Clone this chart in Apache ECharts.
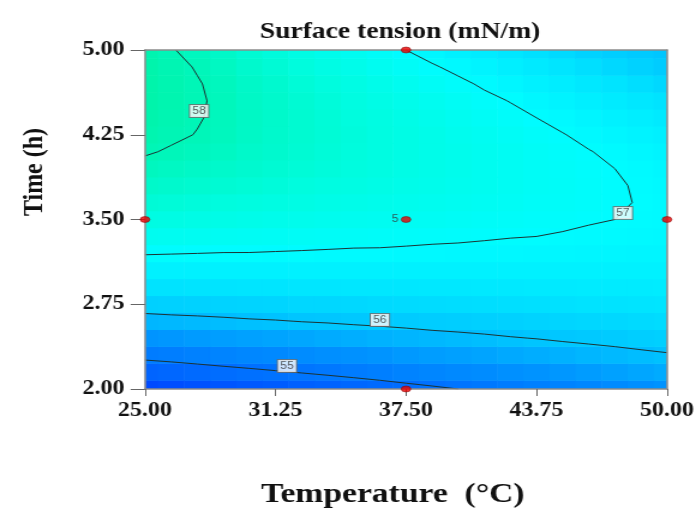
<!DOCTYPE html>
<html>
<head>
<meta charset="utf-8">
<script src="https://cdn.jsdelivr.net/npm/echarts@6/dist/echarts.min.js"></script>
<style>
  html, body { margin: 0; padding: 0; background: #fff; overflow: hidden; }
  /* the figure is laid out narrow and widened, as in the exported plot */
  #chart { width: 583.333px; height: 516px; transform: scaleX(1.2); transform-origin: 0 0; }
</style>
</head>
<body>
<div id="chart"></div>
<script>
// Temperature (°C) columns and time (h) rows of the response grid
const temperatures = [25, 26.25, 27.5, 28.75, 30, 31.25, 32.5, 33.75, 35, 36.25, 37.5,
  38.75, 40, 41.25, 42.5, 43.75, 45, 46.25, 47.5, 48.75, 50];
const times = [2, 2.15, 2.3, 2.45, 2.6, 2.75, 2.9, 3.05, 3.2, 3.35, 3.5,
  3.65, 3.8, 3.95, 4.1, 4.25, 4.4, 4.55, 4.7, 4.85, 5];

// Surface tension (mN/m); one row per time, one column per temperature
const tension = [
  [54.28,54.34,54.40,54.46,54.52,54.58,54.64,54.70,54.76,54.82,54.88,54.94,55.00,55.06,55.12,55.18,55.24,55.30,55.36,55.42,55.48],
  [54.71,54.76,54.82,54.87,54.92,54.97,55.02,55.07,55.12,55.17,55.23,55.28,55.33,55.38,55.43,55.48,55.53,55.58,55.64,55.69,55.74],
  [55.12,55.16,55.20,55.25,55.29,55.33,55.38,55.42,55.46,55.50,55.55,55.59,55.63,55.67,55.72,55.76,55.80,55.85,55.89,55.93,55.97],
  [55.50,55.53,55.57,55.60,55.64,55.67,55.70,55.74,55.77,55.81,55.84,55.88,55.91,55.94,55.98,56.01,56.05,56.08,56.11,56.15,56.18],
  [55.85,55.88,55.90,55.93,55.96,55.98,56.01,56.03,56.06,56.08,56.11,56.14,56.16,56.19,56.21,56.24,56.26,56.29,56.32,56.34,56.37],
  [56.18,56.20,56.22,56.23,56.25,56.27,56.29,56.30,56.32,56.34,56.36,56.37,56.39,56.41,56.42,56.44,56.46,56.48,56.49,56.51,56.53],
  [56.49,56.49,56.50,56.51,56.52,56.53,56.54,56.55,56.56,56.57,56.57,56.58,56.59,56.60,56.61,56.62,56.63,56.64,56.64,56.65,56.66],
  [56.77,56.77,56.77,56.77,56.77,56.77,56.77,56.77,56.77,56.77,56.77,56.77,56.77,56.77,56.77,56.77,56.77,56.77,56.77,56.77,56.77],
  [57.02,57.01,57.00,56.99,56.99,56.98,56.97,56.96,56.95,56.95,56.94,56.93,56.92,56.91,56.91,56.90,56.89,56.88,56.87,56.86,56.86],
  [57.25,57.23,57.21,57.20,57.18,57.16,57.15,57.13,57.11,57.10,57.08,57.06,57.05,57.03,57.01,57.00,56.98,56.96,56.95,56.93,56.91],
  [57.45,57.43,57.40,57.38,57.35,57.33,57.30,57.28,57.25,57.23,57.20,57.18,57.15,57.12,57.10,57.07,57.05,57.02,57.00,56.97,56.95],
  [57.63,57.60,57.56,57.53,57.50,57.46,57.43,57.39,57.36,57.33,57.29,57.26,57.23,57.19,57.16,57.12,57.09,57.06,57.02,56.99,56.96],
  [57.78,57.74,57.70,57.66,57.62,57.57,57.53,57.49,57.45,57.40,57.36,57.32,57.28,57.24,57.19,57.15,57.11,57.07,57.02,56.98,56.94],
  [57.91,57.86,57.81,57.76,57.71,57.66,57.61,57.56,57.51,57.46,57.41,57.35,57.30,57.25,57.20,57.15,57.10,57.05,57.00,56.95,56.90],
  [58.03,57.97,57.92,57.86,57.78,57.72,57.66,57.60,57.54,57.48,57.42,57.36,57.30,57.24,57.19,57.13,57.07,57.01,56.95,56.89,56.83],
  [58.12,58.05,57.99,57.92,57.82,57.75,57.69,57.62,57.55,57.48,57.42,57.35,57.28,57.21,57.14,57.08,57.01,56.94,56.87,56.81,56.74],
  [58.17,58.10,58.02,57.94,57.84,57.76,57.69,57.61,57.53,57.46,57.38,57.31,57.23,57.15,57.08,57.00,56.93,56.85,56.77,56.70,56.62],
  [58.20,58.12,58.03,57.95,57.83,57.75,57.66,57.58,57.49,57.41,57.33,57.24,57.16,57.07,56.99,56.90,56.82,56.73,56.65,56.56,56.48],
  [58.20,58.11,58.02,57.92,57.80,57.71,57.61,57.52,57.43,57.34,57.24,57.15,57.06,56.96,56.87,56.78,56.68,56.59,56.50,56.40,56.31],
  [58.18,58.08,57.98,57.87,57.74,57.64,57.54,57.44,57.34,57.23,57.13,57.03,56.93,56.83,56.73,56.63,56.52,56.42,56.32,56.22,56.12],
  [58.13,58.02,57.91,57.80,57.66,57.55,57.44,57.33,57.22,57.11,57.00,56.89,56.78,56.67,56.56,56.45,56.34,56.23,56.16,56.10,56.03]
];

// Contour levels and where each level's tag sits on its line: [temperature, time, level]
const contourLevels = [55, 56, 57, 58];
const contourTags = [[31.8, 2.204, 55], [36.25, 2.611, 56], [47.89, 3.557, 57], [27.59, 4.46, 58]];

// Design points (temperature, time); the centre point was run 5 times
const designPoints = [[25, 3.5], [37.5, 5], [37.5, 3.5], [50, 3.5], [37.5, 2]];
const centrePoint = [37.5, 3.5];
const centreRuns = 5;

const xTicks = [25, 31.25, 37.5, 43.75, 50];
const yTicks = [2, 2.75, 3.5, 4.25, 5];

const serif = "'Liberation Serif', 'Times New Roman', serif";

// Cell table for the colour field
const cells = [];
times.forEach((t, j) => temperatures.forEach((T, i) => cells.push([T, t, tension[j][i]])));
const dT = temperatures[1] - temperatures[0];
const dt = times[1] - times[0];

// Marching squares over the grid, joined into polylines
function contourPaths(level) {
  const nx = temperatures.length, ny = times.length;
  const point = {}, links = {};
  const link = (a, b) => {
    (links[a] = links[a] || []).push(b);
    (links[b] = links[b] || []).push(a);
  };
  const cross = (key, i0, j0, i1, j1) => {
    const v0 = tension[j0][i0], v1 = tension[j1][i1];
    if ((v0 > level) === (v1 > level)) return null;
    if (!point[key]) {
      const f = (level - v0) / (v1 - v0);
      point[key] = [
        temperatures[i0] + f * (temperatures[i1] - temperatures[i0]),
        times[j0] + f * (times[j1] - times[j0])
      ];
    }
    return key;
  };
  for (let j = 0; j < ny - 1; j++) {
    for (let i = 0; i < nx - 1; i++) {
      const e = [
        cross('h' + j + '_' + i, i, j, i + 1, j),
        cross('v' + j + '_' + (i + 1), i + 1, j, i + 1, j + 1),
        cross('h' + (j + 1) + '_' + i, i, j + 1, i + 1, j + 1),
        cross('v' + j + '_' + i, i, j, i, j + 1)
      ];
      const hit = e.filter(Boolean);
      if (hit.length === 2) {
        link(hit[0], hit[1]);
      } else if (hit.length === 4) {
        const mid = (tension[j][i] + tension[j][i + 1] + tension[j + 1][i] + tension[j + 1][i + 1]) / 4;
        if ((mid > level) === (tension[j][i] > level)) { link(e[0], e[1]); link(e[2], e[3]); }
        else { link(e[3], e[0]); link(e[1], e[2]); }
      }
    }
  }
  const used = new Set(), paths = [];
  const walk = start => {
    const path = [point[start]];
    used.add(start);
    let cur = start;
    for (;;) {
      const next = (links[cur] || []).find(k => !used.has(k));
      if (!next) break;
      used.add(next);
      path.push(point[next]);
      cur = next;
    }
    return path;
  };
  Object.keys(links).filter(k => links[k].length === 1)
    .forEach(k => { if (!used.has(k)) paths.push(walk(k)); });
  Object.keys(links).forEach(k => {
    if (!used.has(k)) { const p = walk(k); p.push(p[0]); paths.push(p); }
  });
  return paths;
}

const contourSeries = [];
contourLevels.forEach(level => {
  contourPaths(level).forEach(path => {
    contourSeries.push({
      type: 'line',
      data: path,
      showSymbol: false,
      symbol: 'none',
      silent: true,
      z: 3,
      lineStyle: { color: '#1c3434', width: 1 }
    });
  });
});

const chart = echarts.init(document.getElementById('chart'), null, { renderer: 'canvas' });

const frameAxis = {
  show: true,
  axisLine: { show: true, lineStyle: { color: '#8c8c8c', width: 1.5 } },
  axisTick: { show: false },
  axisLabel: { show: false },
  splitLine: { show: false },
  z: 6
};

chart.setOption({
  animation: false,
  backgroundColor: '#fff',
  grid: { left: 120.83, top: 50, width: 435, height: 339, containLabel: false },
  graphic: [
    {
      type: 'text', x: 333.3, y: 32, z: 10,
      style: {
        text: 'Surface tension (mN/m)', font: 'bold 23px ' + serif, fill: '#111',
        textAlign: 'center', textVerticalAlign: 'middle', align: 'center', verticalAlign: 'middle'
      }
    },
    {
      type: 'text', x: 28.5, y: 172, rotation: Math.PI / 2, z: 10,
      style: {
        text: 'Time (h)', font: 'bold 24px ' + serif, fill: '#111',
        textAlign: 'center', textVerticalAlign: 'middle', align: 'center', verticalAlign: 'middle'
      }
    }
  ],
  visualMap: {
    type: 'continuous',
    show: false,
    seriesIndex: 0,
    dimension: 2,
    min: 54,
    max: 58.5,
    inRange: {
      color: ['#0038ff', '#0058ff', '#0074ff', '#0094ff', '#00c4ff',
              '#00e4ff', '#00fcff', '#00fce0', '#00f6b8', '#00f098']
    }
  },
  xAxis: [
    {
      type: 'value', min: 25, max: 50, position: 'bottom', z: 6,
      name: 'Temperature  (°C)',
      nameLocation: 'middle',
      nameGap: 92,
      nameTextStyle: { fontFamily: serif, fontWeight: 'bold', fontSize: 28, color: '#111', padding: [0, 22, 0, 0] },
      axisLine: { show: true, lineStyle: { color: '#8c8c8c', width: 1.5 } },
      axisTick: { show: true, inside: false, length: 7, customValues: xTicks, lineStyle: { color: '#666', width: 1 } },
      axisLabel: {
        customValues: xTicks, margin: 12,
        formatter: v => Number(v).toFixed(2),
        fontFamily: serif, fontWeight: 'bold', fontSize: 20, color: '#111'
      },
      splitLine: { show: false }
    },
    Object.assign({ type: 'value', min: 25, max: 50, position: 'top' }, frameAxis)
  ],
  yAxis: [
    {
      type: 'value', min: 2, max: 5, position: 'left', z: 6,
      axisLine: { show: true, lineStyle: { color: '#8c8c8c', width: 1.5 } },
      axisTick: { show: true, inside: false, length: 12, customValues: yTicks, lineStyle: { color: '#666', width: 1 } },
      axisLabel: {
        customValues: yTicks, margin: 17,
        formatter: v => Number(v).toFixed(2),
        fontFamily: serif, fontWeight: 'bold', fontSize: 20, color: '#111'
      },
      splitLine: { show: false }
    },
    Object.assign({ type: 'value', min: 2, max: 5, position: 'right' }, frameAxis)
  ],
  series: [
    {
      type: 'custom',
      data: cells,
      z: 1,
      silent: true,
      renderItem: (params, api) => {
        const c = api.coord([api.value(0), api.value(1)]);
        const s = api.size([dT, dt]);
        const rect = echarts.graphic.clipRectByRect(
          { x: c[0] - s[0] / 2 - 0.3, y: c[1] - s[1] / 2 - 0.3, width: s[0] + 0.6, height: s[1] + 0.6 },
          { x: params.coordSys.x, y: params.coordSys.y, width: params.coordSys.width, height: params.coordSys.height }
        );
        return rect && { type: 'rect', shape: rect, style: { fill: api.visual('color') } };
      }
    },
    ...contourSeries,
    {
      type: 'scatter',
      data: contourTags,
      z: 4,
      silent: true,
      symbolSize: 1,
      itemStyle: { color: 'rgba(0,0,0,0)' },
      label: {
        show: true, position: 'inside',
        formatter: p => String(p.value[2]),
        fontFamily: "'Liberation Sans', Arial, sans-serif", fontSize: 10, color: '#333',
        backgroundColor: '#fff', borderColor: '#6a6a6a', borderWidth: 1,
        padding: [1, 2, 0, 2], lineHeight: 11
      }
    },
    {
      type: 'scatter',
      z: 10,
      clip: false,
      silent: true,
      symbol: 'circle',
      symbolSize: [8, 6],
      itemStyle: { color: '#e80000', borderColor: '#7a0000', borderWidth: 0.6 },
      data: designPoints.map(p => {
        const isCentre = p[0] === centrePoint[0] && p[1] === centrePoint[1];
        return isCentre ? {
          value: p,
          label: {
            show: true, position: 'left', distance: 2,
            formatter: String(centreRuns),
            fontFamily: "'Liberation Sans', Arial, sans-serif", fontSize: 10, color: '#333'
          }
        } : { value: p };
      })
    }
  ]
});
</script>
</body>
</html>
